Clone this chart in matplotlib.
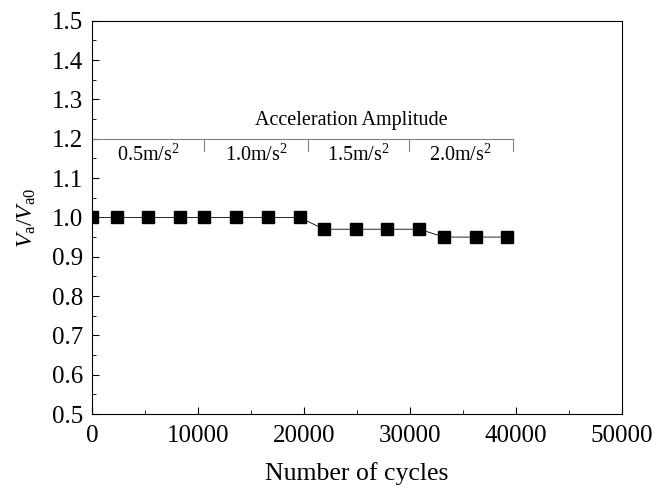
import numpy as np
import matplotlib
matplotlib.use('Agg')
import matplotlib.pyplot as plt
from matplotlib.ticker import MultipleLocator

plt.rcParams['font.family'] = ['Liberation Serif', 'DejaVu Serif']
plt.rcParams['mathtext.fontset'] = 'custom'
plt.rcParams['mathtext.rm'] = 'Liberation Serif'
plt.rcParams['mathtext.it'] = 'Liberation Serif:italic'

cycles = [0, 2400, 5300, 8300, 10600, 13600, 16600, 19600,
          21900, 24900, 27800, 30900, 33200, 36200, 39200]
ratio = [1.0, 1.0, 1.0, 1.0, 1.0, 1.0, 1.0, 1.0,
         0.97, 0.97, 0.97, 0.97, 0.95, 0.95, 0.95]

stage_edges = [0, 10600, 20400, 29900, 39700]
stage_labels = ['0.5m/s$^2$', '1.0m/s$^2$', '1.5m/s$^2$', '2.0m/s$^2$']

fig = plt.figure(figsize=(6.56, 4.93), dpi=100)
ax = fig.add_axes([0.140, 0.160, 0.808, 0.798])

ax.plot(cycles, ratio, color='black', lw=0.6, marker='s', ms=8.5,
        markerfacecolor='black', markeredgecolor='black')

# acceleration amplitude bracket
yb = 1.2
ax.plot([stage_edges[0], stage_edges[-1]], [yb, yb], color='gray', lw=0.8)
for e in stage_edges[1:]:
    ax.plot([e, e], [yb, yb - 0.03], color='gray', lw=0.8)
for i, lab in enumerate(stage_labels):
    xm = (stage_edges[i] + stage_edges[i + 1]) / 2
    ax.text(xm, yb - 0.015, lab, ha='center', va='top', fontsize=14.5)
ax.text(24500, yb + 0.022, 'Acceleration Amplitude',
        ha='center', va='bottom', fontsize=14.5)

ax.set_xlim(0, 50000)
ax.set_ylim(0.5, 1.5)
ax.xaxis.set_major_locator(MultipleLocator(10000))
ax.xaxis.set_minor_locator(MultipleLocator(5000))
ax.yaxis.set_major_locator(MultipleLocator(0.1))
ax.yaxis.set_minor_locator(MultipleLocator(0.05))
ax.yaxis.set_major_formatter(plt.FormatStrFormatter('%.1f'))
ax.tick_params(which='both', direction='in', labelsize=18)
ax.tick_params(axis='x', pad=8)
ax.tick_params(axis='y', pad=6)
ax.tick_params(which='major', length=5)
ax.tick_params(which='minor', length=3)

ax.set_xlabel('Number of cycles', fontsize=18.5, labelpad=11)
ax.set_ylabel(r'$V_\mathrm{a}/V_\mathrm{a0}$', fontsize=17, labelpad=10)

fig.savefig('out.png', dpi=100)
